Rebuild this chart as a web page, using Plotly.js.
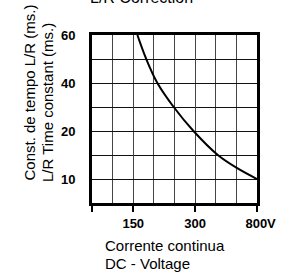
<!DOCTYPE html>
<html>
<head>
<meta charset="utf-8">
<script src="https://cdn.plot.ly/plotly-3.0.1.min.js"></script>
<style>html,body{margin:0;padding:0;background:#fff;}#chart{width:287px;height:272px;}</style>
</head>
<body>
<div id="chart"></div>
<script>
// Curve position on the chart's (non-linear) voltage scale, in grid columns
var curveX = [2.20, 2.63, 3.17, 3.96, 4.92, 6.10, 7.04, 8.00];
// Curve position on the chart's (non-linear) time-constant scale, in grid rows
var curveY = [7.00, 6.00, 5.00, 4.00, 3.00, 2.00, 1.45, 1.00];

var xTickVals = [0, 2, 5, 8];
var xTickText = ['', '150', '300', '\u2007800V'];
var yTickVals = [1, 3, 5, 7];
var yTickText = ['10', '20', '40', '60'];

var titleText = 'L/R Correction';
var yTitle1 = 'Const. de tempo L/R (ms.)';
var yTitle2 = 'L/R Time constant (ms.)';
var xTitle1 = 'Corrente continua';
var xTitle2 = 'DC - Voltage';

var FONT = 'Liberation Sans, Arial, sans-serif';

var trace = {
  x: curveX, y: curveY, type: 'scatter', mode: 'lines',
  line: {color: '#000', width: 2, shape: 'spline', smoothing: 1},
  hoverinfo: 'skip'
};

var layout = {
  width: 287, height: 272,
  margin: {l: 92, r: 30, t: 35, b: 69},
  paper_bgcolor: '#fff', plot_bgcolor: '#fff',
  showlegend: false,
  font: {family: FONT, color: '#000'},
  xaxis: {
    range: [0, 8], fixedrange: true,
    tickmode: 'array', tickvals: xTickVals, ticktext: xTickText,
    ticks: 'outside', ticklen: 6, tickwidth: 2, tickcolor: '#000',
    tickfont: {family: FONT, size: 13, color: '#000', weight: 'bold'},
    showgrid: true, gridcolor: '#444', gridwidth: 1,
    minor: {dtick: 1, tick0: 0, showgrid: true, gridcolor: '#444', gridwidth: 1, ticks: ''},
    showline: true, linecolor: '#000', linewidth: 3, mirror: true,
    zeroline: false
  },
  yaxis: {
    range: [0, 7], fixedrange: true,
    tickmode: 'array', tickvals: yTickVals, ticktext: yTickText,
    ticks: '', ticklabelstandoff: 11,
    tickfont: {family: FONT, size: 13, color: '#000', weight: 'bold'},
    showgrid: true, gridcolor: '#111', gridwidth: 1,
    minor: {dtick: 1, tick0: 0, showgrid: true, gridcolor: '#111', gridwidth: 1, ticks: ''},
    showline: true, linecolor: '#000', linewidth: 3, mirror: true,
    zeroline: false
  },
  annotations: [
    {text: titleText, xref: 'paper', yref: 'paper', x: 0.30, y: 1.16, xanchor: 'center', yanchor: 'bottom',
     showarrow: false, font: {family: FONT, size: 16, color: '#000'}},
    {text: yTitle1, xref: 'paper', yref: 'paper', x: (29 - 92) / 165, y: (203 - 92.5) / 168,
     xanchor: 'center', yanchor: 'middle', textangle: -90, showarrow: false,
     font: {family: FONT, size: 15, color: '#000'}},
    {text: yTitle2, xref: 'paper', yref: 'paper', x: (47.5 - 92) / 165, y: (203 - 102.5) / 168,
     xanchor: 'center', yanchor: 'middle', textangle: -90, showarrow: false,
     font: {family: FONT, size: 15, color: '#000'}},
    {text: xTitle1, xref: 'paper', yref: 'paper', x: (102.7 - 92) / 165, y: (203 - 245) / 168,
     xanchor: 'left', yanchor: 'middle', showarrow: false,
     font: {family: FONT, size: 15, color: '#000'}},
    {text: xTitle2, xref: 'paper', yref: 'paper', x: (102.7 - 92) / 165, y: (203 - 263.3) / 168,
     xanchor: 'left', yanchor: 'middle', showarrow: false,
     font: {family: FONT, size: 15, color: '#000'}}
  ]
};

Plotly.newPlot('chart', [trace], layout, {staticPlot: true, displayModeBar: false});
</script>
</body>
</html>
